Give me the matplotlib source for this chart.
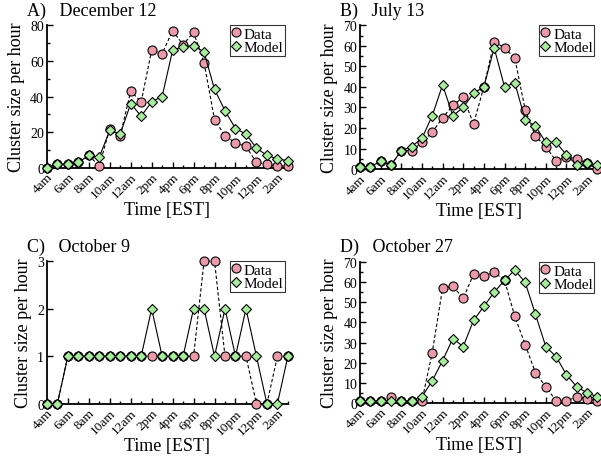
import matplotlib
matplotlib.use('Agg')
import matplotlib.pyplot as plt
import numpy as np
from matplotlib.ticker import MultipleLocator

plt.rcParams['font.family'] = ['Liberation Serif', 'DejaVu Serif']

# hours from 4am through 3am the next day
hours = np.arange(24)
hour_labels = ['4am', '6am', '8am', '10am', '12am', '2pm', '4pm', '6pm',
               '8pm', '10pm', '12pm', '2am']

# A) December 12
dec12_data = [0, 2, 2, 3, 7, 1, 22, 18, 43, 37, 66, 64, 77, 69, 76, 59,
              27, 18, 14, 12, 3, 2, 1, 1]
dec12_model = [0, 2, 2, 3, 7, 6, 21, 19, 36, 29, 37, 40, 66, 68, 68.5, 65,
               44, 32, 22, 19, 11, 7, 5, 4]

# B) July 13
jul13_data = [1, 1, 4, 2, 9, 9, 13, 18, 25, 31, 35, 22, 40, 62, 59, 54,
              29, 16, 11, 4, 6, 5, 3, 0]
jul13_model = [1, 1, 4, 2, 9, 11, 15, 26, 41, 26, 30, 37, 40, 59, 40, 42,
               24, 21, 13, 13, 7, 2, 3, 2]

# C) October 9
oct9_data = [0, 0, 1, 1, 1, 1, 1, 1, 1, 1, 1, 1, 1, 1, 1, 3,
             3, 1, 1, 1, 0, 0, 1, 1]
oct9_model = [0, 0, 1, 1, 1, 1, 1, 1, 1, 1, 2, 1, 1, 1, 2, 2,
              1, 2, 1, 2, 1, 0, 0, 1]

# D) October 27
oct27_data = [1, 1, 1, 3, 1, 1, 1, 25, 57, 58, 52, 64, 63, 65, 61, 43,
              29, 15, 8, 1, 1, 3, 2, 1]
oct27_model = [1, 1, 1, 1, 1, 1, 3, 11, 21, 32, 28, 41, 48, 55, 61, 66,
               60, 44, 28, 23, 14, 8, 5, 3]

pink = '#ec9aaa'
green = '#a6ee9c'

fig = plt.figure(figsize=(6.01, 4.60), dpi=100)


def panel(rect, data, model, ymax, ymajor, yminor, title, title_xy):
    ax = fig.add_axes(rect)
    ax.plot(hours, data, ls=(0, (3, 2)), color='black', lw=0.8,
            marker='o', ms=6.5, mfc=pink, mec='black', mew=0.8,
            label='Data', clip_on=False, zorder=3)
    ax.plot(hours, model, ls='-', color='black', lw=0.8,
            marker='D', ms=5.2, mfc=green, mec='black', mew=0.8,
            label='Model', clip_on=False, zorder=4)
    ax.set_xlim(0, 23)
    ax.set_ylim(0, ymax)
    ax.spines['top'].set_visible(False)
    ax.spines['right'].set_visible(False)
    ax.spines['left'].set_linewidth(1.3)
    ax.spines['bottom'].set_linewidth(1.3)
    ax.set_xticks(hours[::2])
    ax.set_xticklabels(hour_labels, rotation=45, ha='right',
                       rotation_mode='anchor')
    ax.xaxis.set_minor_locator(MultipleLocator(1))
    ax.yaxis.set_major_locator(MultipleLocator(ymajor))
    if yminor:
        ax.yaxis.set_minor_locator(MultipleLocator(yminor))
    ax.tick_params(axis='both', which='major', direction='in', length=4,
                   width=1, labelsize=10, pad=2)
    ax.tick_params(axis='x', which='major', labelsize=9.5)
    ax.tick_params(axis='both', which='minor', direction='in', length=2.5,
                   width=1)
    ax.set_ylabel('Cluster size per hour', fontsize=13, labelpad=4)
    ax.set_xlabel('Time [EST]', fontsize=13, labelpad=0)
    leg = ax.legend(loc='upper right', bbox_to_anchor=(1.0, 1.02),
                    fontsize=11, frameon=True, fancybox=False,
                    handlelength=0.6, handletextpad=0.2,
                    borderpad=0.1, labelspacing=0.0,
                    borderaxespad=0.2)
    leg.get_frame().set_edgecolor('black')
    leg.get_frame().set_linewidth(0.8)
    for h in leg.legend_handles:
        h.set_linestyle('none')
    fig.text(title_xy[0], title_xy[1], title, fontsize=13,
             ha='left', va='center')
    return ax


panel([0.078, 0.633, 0.401, 0.310], dec12_data, dec12_model, 80, 20, 10,
      'A)   December 12', (0.045, 0.975))
panel([0.599, 0.630, 0.395, 0.313], jul13_data, jul13_model, 70, 10, 5,
      'B)   July 13', (0.565, 0.975))
panel([0.078, 0.120, 0.401, 0.310], oct9_data, oct9_model, 3, 1, None,
      'C)   October 9', (0.045, 0.463))
panel([0.599, 0.122, 0.395, 0.306], oct27_data, oct27_model, 70, 10, 5,
      'D)   October 27', (0.565, 0.463))

fig.savefig('out.png', dpi=100)
